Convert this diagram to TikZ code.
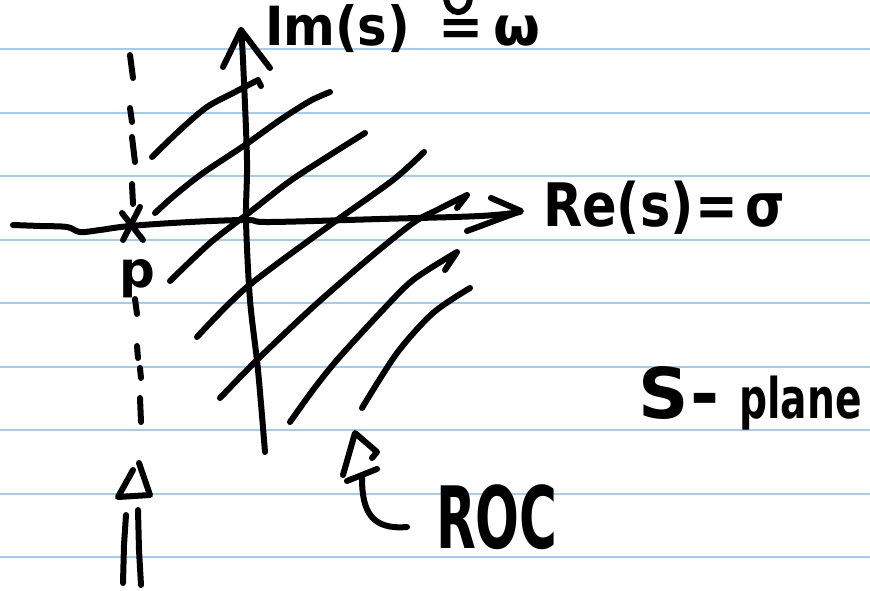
\documentclass[tikz,border=0pt]{standalone}
\usepackage{fontspec}
\setmainfont{DejaVu Sans}
\definecolor{ruled}{RGB}{160,204,246}
\begin{document}
\begin{tikzpicture}[x=1pt,y=-1pt,
  ink/.style={line width=6pt, line cap=round, line join=round, black},
  rule/.style={line width=2pt, ruled},
  hand/.style={inner sep=0pt, outer sep=0pt, anchor=base west, text=black, font=\bfseries}]
\useasboundingbox (0,0) rectangle (870,590);
\fill[white] (0,0) rectangle (870,590);
\foreach \y in {49,112.5,176,239.5,303,366.5,430,493.5,557}
  \draw[rule] (0,\y) -- (870,\y);

% hatching of the ROC
\draw[ink] plot[smooth] coordinates {(152,157) (180,130) (207,107) (235,92) (258,80)} -- (261,86);
\draw[ink] plot[smooth] coordinates {(155,213) (175,195) (203,173) (245,145) (280,120) (310,101) (330,92)};
\draw[ink] plot[smooth] coordinates {(170,281) (210,243) (250,212) (290,181) (330,155) (365,133)};
\draw[ink] plot[smooth] coordinates {(197,337) (247,287) (333,223) (393,180) (424,152)};
\draw[ink] plot[smooth] coordinates {(220,398) (257,360) (313,307) (367,260) (413,223) (437,210) (467,195)} -- (457,208);
\draw[ink] plot[smooth] coordinates {(290,422) (313,390) (337,360) (380,313) (413,280) (457,252)} -- (445,270);
\draw[ink] plot[smooth] coordinates {(362,408) (397,353) (433,313) (470,288)};

% real axis
\draw[ink] plot[smooth, tension=0.6] coordinates {(13,225) (40,226) (67,227) (80,232) (100,230) (130,226) (190,222) (247,220) (270,222) (380,219) (480,216) (520,212)};
\draw[ink] (491,198) -- (521,211) -- (467,231);
% imaginary axis
\draw[ink] plot[smooth] coordinates {(241,30) (243,60) (247,160) (246,220) (250,300) (258,370) (265,452)};
\draw[ink] (223,67) -- (241,30) -- (270,68);

% pole
\draw[ink] (122,213) -- (143,240);
\draw[ink] (140,207) -- (123,240);
\foreach \a/\b in {{(130,55)/(133,78)},{(130,108)/(132,122)},{(132,137)/(135,162)},{(132,184)/(133,204)},
  {(135,299)/(137,314)},{(137,346)/(138,358)},{(140,368)/(141,378)},{(140,398)/(141,422)}}
  \draw[ink] \a -- \b;
\node[hand] (p) at (119,287) {\fontsize{50}{50}\selectfont p};

% hollow up arrow
\draw[ink] (133,470) -- (118,497) -- (150,495) -- (139,463);
\draw[ink] (126,515) -- (124,545) -- (123,583);
\draw[ink] (138,510) -- (139,550) -- (141,585);

% labels
\node[hand] (im) at (265,45) {\fontsize{54}{54}\selectfont \scalebox{0.92}[1]{Im(s)}\hspace{28pt}=\hspace{10pt}ω};
\draw[ink] (446,-4) .. controls (446,17) and (470,18) .. (470,-4);
\node[hand] (re) at (543,226) {\scalebox{0.85}[1]{\fontsize{60}{60}\selectfont Re(s)\hspace{2pt}=\hspace{8pt}σ}};
\node[hand] (sp) at (638,418) {\fontsize{70}{70}\selectfont S\hspace{2pt}-\hspace{20pt}\scalebox{0.7}[1]{\fontsize{56}{56}\selectfont plane}};
\node[hand] (roc) at (436,548) {\scalebox{0.6}[1]{\fontsize{86}{86}\selectfont ROC}};

% ROC pointer
\draw[ink] (343,475) -- (355,433) -- (377,452) -- (372,458);
\draw[ink] (347,481) -- (377,469);
\draw[ink] (362,478) .. controls (362,512) and (372,530) .. (407,527);
\end{tikzpicture}
\end{document}
